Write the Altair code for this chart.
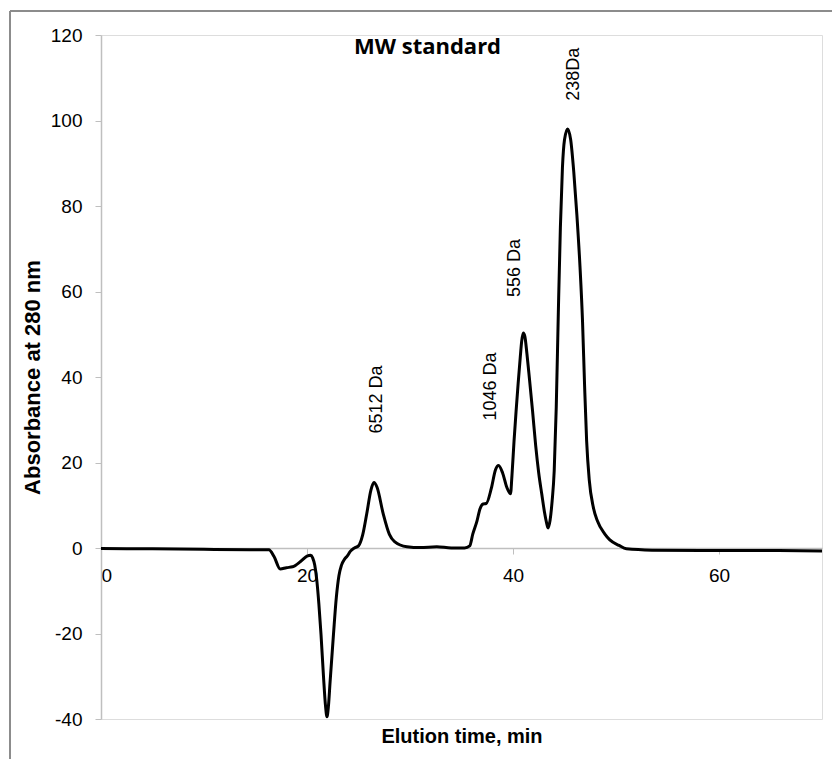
import altair as alt
import pandas as pd

# Chromatogram trace
time = [0, 5, 10, 15, 16.3, 16.8, 17.4, 18.0, 18.6, 19.4, 20.0, 20.35, 20.55, 20.75,
        20.95, 21.15, 21.36, 21.6, 21.8, 21.94, 22.08, 22.25, 22.57, 22.85, 23.1, 23.35,
        23.65, 23.9, 24.2, 24.6, 25.0, 25.4, 25.8, 26.2, 26.5, 26.8, 27.4, 28.0, 28.5,
        29.7, 31.0, 32.6, 34.0, 35.3, 35.8, 36.1, 36.5, 36.8, 37.1, 37.4, 37.9, 38.3,
        38.6, 39.0, 39.4, 39.76, 39.9, 40.1, 40.3, 40.5, 40.7, 40.85, 41.0, 41.15, 41.35,
        41.6, 41.9, 42.2, 42.5, 42.8, 43.05, 43.25, 43.4, 43.6, 43.8, 44.0, 44.2, 44.4,
        44.6, 44.8, 45.0, 45.3, 45.6, 45.9, 46.2, 46.5, 46.75, 46.95, 47.15, 47.4, 47.8,
        48.2, 48.9, 49.4, 50.3, 51.0, 53.5, 60, 65, 70]
absorbance = [-0.1, -0.2, -0.3, -0.4, -0.4, -2.0, -4.9, -4.6, -4.4, -3.1, -1.9, -1.7,
              -2.3, -4.0, -7.5, -13.0, -20.2, -30.0, -37.0, -39.5, -37.0, -31.0, -20.2,
              -11.5, -6.5, -4.0, -2.6, -1.9, -0.8, 0.0, 0.5, 3.0, 8.0, 13.5, 15.3, 14.2,
              8.0, 3.2, 1.5, 0.3, 0.1, 0.3, 0.0, 0.0, 0.5, 3.3, 6.3, 9.2, 10.3, 10.4,
              14.0, 18.3, 19.3, 17.5, 14.2, 12.7, 17.0, 25.0, 32.0, 38.5, 44.5, 48.5,
              50.3, 49.5, 45.5, 39.5, 32.0, 24.0, 17.5, 12.5, 8.5, 6.0, 4.7, 6.5, 11.0,
              18.0, 33.0, 55.0, 75.0, 89.0, 95.5, 98.0, 95.5, 88.0, 78.0, 66.0, 53.0,
              38.0, 25.0, 16.0, 9.5, 6.3, 3.3, 1.9, 0.6, -0.2, -0.5, -0.6, -0.6, -0.7]

# Peak annotations
peak_labels = ["6512 Da", "1046 Da", "556 Da", "238Da"]
label_time = [26.8, 37.9, 40.2, 45.9]
label_abs = [26.8, 29.8, 58.7, 104.6]

# Chart title (placed inside plot area)
title_text = ["MW standard"]
title_time = [31.7]
title_abs = [117.2]

x_ticks = [0, 20, 40, 60]
y_ticks = [-40, -20, 0, 20, 40, 60, 80, 100, 120]

W, H = 721, 684

curve_df = pd.DataFrame({"time": time, "abs": absorbance})
label_df = pd.DataFrame({"label": peak_labels, "time": label_time, "abs": label_abs})
title_df = pd.DataFrame({"label": title_text, "time": title_time, "abs": title_abs})

xscale = alt.Scale(domain=[0, 70], nice=False, zero=False)
yscale = alt.Scale(domain=[-40, 120], nice=False, zero=False)

line = alt.Chart(curve_df).mark_line(
    color="black", strokeWidth=3, interpolate="monotone", clip=True
).encode(
    x=alt.X("time:Q", scale=xscale, axis=alt.Axis(
        values=x_ticks, title="Elution time, min", offset=-171,
        grid=False, domainColor="#bfbfbf", tickColor="#bfbfbf", tickSize=6,
        domainWidth=1.5, labelFont="Liberation Sans", labelFontSize=19,
        labelColor="black", labelPadding=12, titleFont="Liberation Sans",
        titleFontSize=20, titleFontWeight="bold", titleColor="black",
        titlePadding=141, labelExpr="'' + datum.value")),
    y=alt.Y("abs:Q", scale=yscale, axis=alt.Axis(
        values=y_ticks, title="Absorbance at 280 nm", grid=False,
        domainColor="#bfbfbf", tickColor="#bfbfbf", tickSize=6, domainWidth=1.5,
        labelFont="Liberation Sans", labelFontSize=19, labelColor="black",
        labelPadding=13, titleFont="Liberation Sans", titleFontSize=22,
        titleFontWeight="bold", titleColor="black", titlePadding=6,
        labelExpr="'' + datum.value")),
)

labels = alt.Chart(label_df).mark_text(
    angle=270, align="left", baseline="middle", fontSize=18,
    font="Liberation Sans", color="black"
).encode(x=alt.X("time:Q", scale=xscale), y=alt.Y("abs:Q", scale=yscale), text="label:N")

title = alt.Chart(title_df).mark_text(
    align="center", baseline="middle", fontSize=22, fontWeight="bold",
    font="Open Sans", color="black"
).encode(x=alt.X("time:Q", scale=xscale), y=alt.Y("abs:Q", scale=yscale), text="label:N")

frame_top = alt.Chart(title_df).mark_rule(color="#8c8c8c", strokeWidth=2).encode(
    x=alt.value(-91), x2=alt.value(731), y=alt.value(-24))
frame_left = alt.Chart(title_df).mark_rule(color="#8c8c8c", strokeWidth=2).encode(
    x=alt.value(-91), y=alt.value(-24), y2=alt.value(724))

chart = alt.layer(frame_top, frame_left, line, labels, title).properties(
    width=W, height=H,
    autosize=alt.AutoSizeParams(type="none"),
    padding={"left": 101, "top": 35, "right": 10, "bottom": 40},
).configure_view(stroke=None).configure(background="white")

chart.save("out.html", embed_options={"renderer": "svg", "actions": False})
